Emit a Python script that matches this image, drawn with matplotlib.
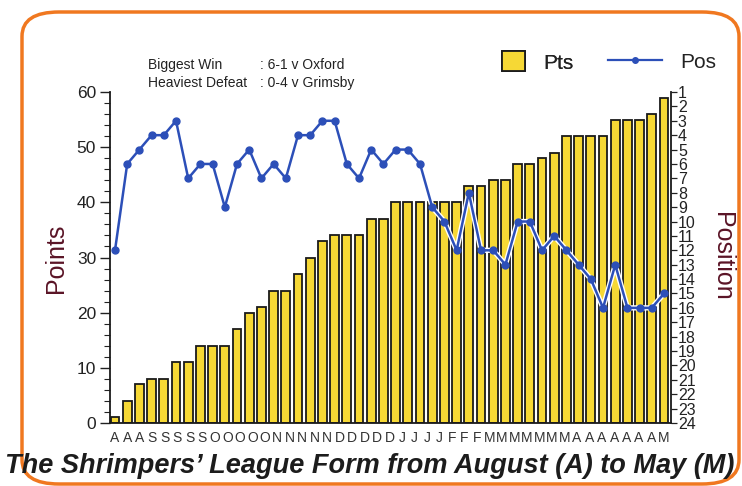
import numpy as np
import matplotlib
matplotlib.use("Agg")
import matplotlib.pyplot as plt
from matplotlib.patches import FancyBboxPatch, Patch
from matplotlib.lines import Line2D

plt.rcParams['font.family'] = ['Liberation Sans', 'DejaVu Sans']

# points total after each game (46 games)
points = [1, 4, 7, 8, 8, 11, 11, 14, 14, 14, 17, 20, 21, 24, 24, 27, 30, 33,
          34, 34, 34, 37, 37, 40, 40, 40, 40, 40, 40, 43, 43, 44, 44, 47, 47,
          48, 49, 52, 52, 52, 52, 55, 55, 55, 56, 59]
# league position after each game
position = [12, 6, 5, 4, 4, 3, 7, 6, 6, 9, 6, 5, 7, 6, 7, 4, 4, 3,
            3, 6, 7, 5, 6, 5, 5, 6, 9, 10, 12, 8, 12, 12, 13, 10, 10,
            12, 11, 12, 13, 14, 16, 13, 16, 16, 16, 15]
# month letters printed under the bars
month_letters = list("AAASSSSSOOOOONNNNNDDDDDJJJJFFFMMMMMMMAAAAAAAM")

bar_yellow = "#f6d835"
line_blue = "#2c4fb8"
maroon = "#5a1426"

games = np.arange(len(points))

fig = plt.figure(figsize=(7.42, 4.86), dpi=100)
fig.patch.set_facecolor("white")

# orange rounded card border
card = FancyBboxPatch((22 / 742, 1 - 484 / 486), 717 / 742, 472 / 486,
                      boxstyle="round,pad=0,rounding_size=0.05",
                      transform=fig.transFigure, facecolor="none",
                      edgecolor="#f07820", linewidth=2.5, zorder=-1)
fig.patches.append(card)

ax = fig.add_axes([110 / 742, 1 - 423 / 486, 561 / 742, 331 / 486])
ax.patch.set_alpha(0)
ax.bar(games, points, width=0.72, color=bar_yellow, edgecolor="#1a1a1a",
       linewidth=1.3, zorder=2)
ax.set_xlim(-0.41, len(points) - 1 + 0.57)
ax.set_ylim(0, 60)
ax.set_yticks(np.arange(0, 61, 10))
ax.set_yticks(np.arange(0, 61, 2), minor=True)
ax.tick_params(axis="y", which="major", length=7, width=1, pad=3,
               labelsize=12.5, colors="#222222")
ax.tick_params(axis="y", which="minor", length=4, width=0.8, colors="#222222")
ax.set_xticks(np.linspace(0, len(points) - 1, len(month_letters)))
ax.set_xticklabels(month_letters, fontsize=10, color="#333333")
ax.tick_params(axis="x", length=0, pad=6)
ax.spines["top"].set_visible(False)
ax.spines["right"].set_visible(False)
for s in ["left", "bottom"]:
    ax.spines[s].set_linewidth(1.3)
    ax.spines[s].set_color("#1a1a1a")

ax2 = ax.twinx()
# thin white halo behind the line, as printed over the bars
ax2.plot(games, position, color="white", linewidth=3.8, zorder=2)
ax2.plot(games, position, color=line_blue, linewidth=1.8, marker="o",
         markersize=5, markerfacecolor=line_blue, markeredgecolor=line_blue,
         zorder=3)
ax2.set_ylim(24, 1)
ax2.set_yticks(np.arange(1, 25))
ax2.tick_params(axis="y", length=4, width=0.9, pad=1, labelsize=11.5,
                colors="#222222")
ax2.spines["top"].set_visible(False)
ax2.spines["left"].set_visible(False)
ax2.spines["bottom"].set_visible(False)
ax2.spines["right"].set_linewidth(1.3)
ax2.spines["right"].set_color("#1a1a1a")

fig.text(56 / 742, 1 - 258 / 486, "Points", rotation=90, fontsize=18,
         color=maroon, ha="center", va="center")
fig.text(722 / 742, 1 - 256 / 486, "Position", rotation=270, fontsize=18,
         color=maroon, ha="center", va="center")

fig.text(148 / 742, 1 - 65 / 486, "Biggest Win", fontsize=10, color="#222222",
         va="center")
fig.text(148 / 742, 1 - 83 / 486, "Heaviest Defeat", fontsize=10,
         color="#222222", va="center")
fig.text(260 / 742, 1 - 65 / 486, ": 6-1 v Oxford", fontsize=10,
         color="#222222", va="center")
fig.text(260 / 742, 1 - 83 / 486, ": 0-4 v Grimsby", fontsize=10,
         color="#222222", va="center")

leg1 = fig.legend(handles=[Patch(facecolor=bar_yellow, edgecolor="#1a1a1a",
                                 linewidth=1.3, label="Pts")],
                  loc="center", bbox_to_anchor=(538 / 742, 1 - 62 / 486),
                  frameon=False, fontsize=15, handlelength=1.1,
                  handleheight=1.1, handletextpad=0.9, labelcolor="#222222")
fig.add_artist(leg1)
fig.legend(handles=[Line2D([], [], color=line_blue, linewidth=1.6, marker="o",
                           markersize=4, label="Pos")],
           loc="center", bbox_to_anchor=(662 / 742, 1 - 62 / 486),
           frameon=False, fontsize=15, handlelength=2.6, handletextpad=0.9,
           labelcolor="#222222")

fig.text(370 / 742, 1 - 466 / 486,
         "The Shrimpers\u2019 League Form from August (A) to May (M)",
         fontsize=19.5, fontweight="bold", fontstyle="italic",
         color="#1c1c1c", ha="center", va="center")

fig.savefig("out.png", dpi=100)
